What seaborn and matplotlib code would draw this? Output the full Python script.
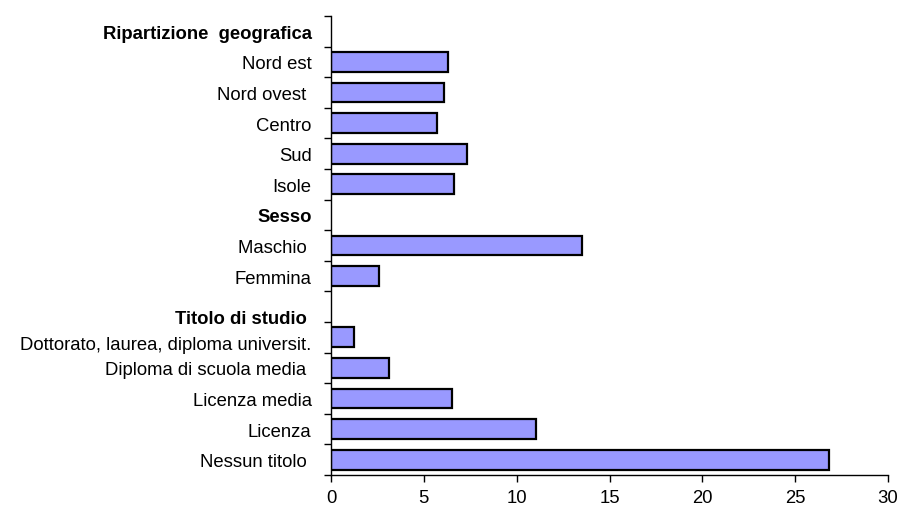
import matplotlib
matplotlib.use("Agg")
import matplotlib.pyplot as plt
import matplotlib.transforms as mtransforms
import seaborn as sns
import pandas as pd
import numpy as np

# ---- data ----
all_labels = [
    "Ripartizione  geografica", "Nord est", "Nord ovest ", "Centro", "Sud", "Isole",
    "Sesso", "Maschio ", "Femmina",
    "Titolo di studio ", "Dottorato, laurea, diploma universit.", "Diploma di scuola media ",
    "Licenza media", "Licenza", "Nessun titolo ",
]
header_labels = ["Ripartizione  geografica", "Sesso", "Titolo di studio "]
bar_labels = [
    "Nord est", "Nord ovest ", "Centro", "Sud", "Isole",
    "Maschio ", "Femmina",
    "Dottorato, laurea, diploma universit.", "Diploma di scuola media ",
    "Licenza media", "Licenza", "Nessun titolo ",
]
bar_values = [6.3, 6.1, 5.7, 7.35, 6.6, 13.5, 2.6, 1.25, 3.1, 6.5, 11.05, 26.8]
x_ticks = [0, 5, 10, 15, 20, 25, 30]

df = pd.DataFrame({"categoria": bar_labels, "valore": bar_values})

sns.set_theme(style="white")
plt.rcParams["font.family"] = ["Liberation Sans", "DejaVu Sans"]
plt.rcParams["text.color"] = "black"
plt.rcParams["xtick.color"] = "black"
plt.rcParams["ytick.color"] = "black"

fig = plt.figure(figsize=(8.99, 5.10), dpi=100)
ax = fig.add_axes([331 / 899, 1 - 476 / 510, (888 - 331) / 899, (476 - 17) / 510])

sns.barplot(data=df, y="categoria", x="valore", order=all_labels, orient="h",
            color="#9999FF", saturation=1, width=0.65, edgecolor="black",
            linewidth=1.6, ax=ax)

ax.set_xlim(0, 30)
ax.set_ylim(len(all_labels) - 0.5, -0.5)
ax.set_xticks(x_ticks)
ax.set_xticklabels([str(t) for t in x_ticks], fontsize=13.3)
ax.set_xlabel("")
ax.set_ylabel("")

# category labels at centres (minor), tick marks at boundaries (major)
ax.set_yticks(np.arange(len(all_labels) + 1) - 0.5)
ax.set_yticklabels([])
ax.set_yticks(np.arange(len(all_labels)), minor=True)
ax.set_yticklabels(all_labels, minor=True, fontsize=13.3)
ax.tick_params(axis="y", which="minor", length=0, pad=14, labelcolor="black")
ax.tick_params(axis="y", which="major", length=5, width=1, color="black", direction="out", left=True)
ax.tick_params(axis="x", which="major", length=5, width=1, color="black", direction="out",
               bottom=True, pad=5, labelcolor="black")

for lab in ax.get_yticklabels(minor=True):
    if lab.get_text() in header_labels:
        lab.set_fontweight("bold")
    if lab.get_text() == "Titolo di studio ":
        lab.set_transform(lab.get_transform() + mtransforms.ScaledTranslation(0, -0.10, fig.dpi_scale_trans))
    if lab.get_text().startswith("Dottorato"):
        lab.set_transform(lab.get_transform() + mtransforms.ScaledTranslation(0, -0.05, fig.dpi_scale_trans))

for s in ["top", "right"]:
    ax.spines[s].set_visible(False)
for s in ["left", "bottom"]:
    ax.spines[s].set_color("black")
    ax.spines[s].set_linewidth(1)

ax.grid(False)
fig.savefig("out.png", dpi=100)
